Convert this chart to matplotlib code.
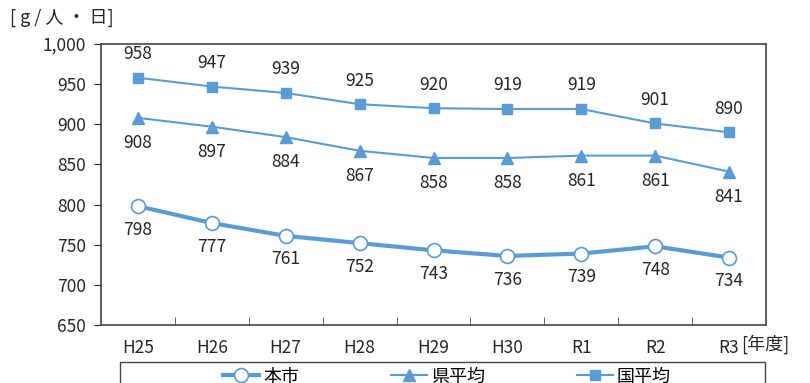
import matplotlib
matplotlib.use("Agg")
import matplotlib.pyplot as plt
from matplotlib.ticker import FuncFormatter, FixedLocator
from matplotlib.patches import Rectangle

plt.rcParams['font.family'] = ['Noto Sans CJK JP', 'DejaVu Sans']

years = ["H25", "H26", "H27", "H28", "H29", "H30", "R1", "R2", "R3"]
city = [798, 777, 761, 752, 743, 736, 739, 748, 734]
pref = [908, 897, 884, 867, 858, 858, 861, 861, 841]
nation = [958, 947, 939, 925, 920, 919, 919, 901, 890]
names = ["本市", "県平均", "国平均"]

color = "#5B9BD5"
tc = "#262626"
W, H = 810, 383
fig = plt.figure(figsize=(W/100, H/100), dpi=100)
ax = fig.add_axes([101/W, 1-325/H, (766-101)/W, (325-44)/H])
x = list(range(len(years)))

l1, = ax.plot(x, city, color=color, lw=3, marker='o', ms=10, mfc='white', mec=color, mew=1.2, label=names[0])
l2, = ax.plot(x, pref, color=color, lw=1.5, marker='^', ms=8, mfc=color, mec=color, label=names[1])
l3, = ax.plot(x, nation, color=color, lw=1.5, marker='s', ms=6.5, mfc=color, mec=color, label=names[2])

fs = 12.5
for i in x:
    ax.annotate(str(city[i]), (i, city[i]), xytext=(0, -17), textcoords='offset points', ha='center', va='center', fontsize=fs, color=tc)
    ax.annotate(str(pref[i]), (i, pref[i]), xytext=(0, -18), textcoords='offset points', ha='center', va='center', fontsize=fs, color=tc)
    ax.annotate(str(nation[i]), (i, nation[i]), xytext=(0, 17), textcoords='offset points', ha='center', va='center', fontsize=fs, color=tc)

ax.set_xlim(-0.5, len(years) - 0.5)
ax.set_ylim(650, 1000)
ax.set_yticks(range(650, 1001, 50))
ax.yaxis.set_major_formatter(FuncFormatter(lambda v, p: f"{int(v):,}"))
ax.set_xticks(x)
ax.set_xticklabels(years)
ax.xaxis.set_minor_locator(FixedLocator([i + 0.5 for i in range(len(years) - 1)]))
ax.tick_params(axis='x', which='major', length=0, pad=10, labelsize=fs, colors=tc)
ax.tick_params(axis='x', which='minor', direction='in', length=6, color='#444444')
ax.tick_params(axis='y', direction='out', length=5, labelsize=fs, colors=tc, pad=6)
for s in ax.spines.values():
    s.set_color('#444444')
    s.set_linewidth(1.2)

fig.text(10/W, 1-18/H, "[ g / 人 ・ 日]", fontsize=13, ha='left', va='center', color=tc)
fig.text(741/W, 1-344/H, "[年度]", fontsize=13, ha='left', va='center', color=tc)

fig.patches.append(Rectangle((120/W, -0.05), (765-120)/W, 0.05 + 1-362/H, transform=fig.transFigure,
                             fill=False, edgecolor='#444444', linewidth=1.0))
leg = fig.legend(handles=[l1, l2, l3], loc='upper center', bbox_to_anchor=(447/W, 1-355/H),
                 ncol=3, fontsize=13, frameon=False, handlelength=2.0,
                 borderpad=0.2, handletextpad=0.2, columnspacing=5.1)

fig.savefig("out.png", dpi=100)
